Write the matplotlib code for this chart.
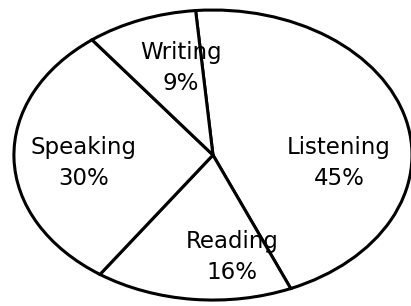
import matplotlib.pyplot as plt

# Skills share (clockwise from the top)
skills = ['Listening', 'Reading', 'Speaking', 'Writing']
shares = [45, 16, 30, 9]

# label block centres in pie units (radius 1, stretched to an ellipse)
label_x = [0.633, 0.095, -0.648, -0.161]
label_y = [-0.055, -0.703, -0.055, 0.60]

fig = plt.figure(figsize=(4.11, 3.06), dpi=100)
ax = fig.add_axes([0, 0, 1, 1])

ax.pie(shares, startangle=95, counterclock=False,
       colors=['white'] * len(shares),
       wedgeprops=dict(edgecolor='black', linewidth=2.2))

# stretch the pie to fill the frame like the printed figure
ax.set_aspect('auto')
ax.set_xlim(-1.070, 0.995)
ax.set_ylim(-1.041, 1.069)
ax.axis('off')

for name, pct, x, y in zip(skills, shares, label_x, label_y):
    ax.text(x, y, f'{name}\n{pct}%', ha='center', va='center',
            fontsize=16.5, family='DejaVu Sans', linespacing=1.4)

fig.savefig('out.png', dpi=100, facecolor='white')
